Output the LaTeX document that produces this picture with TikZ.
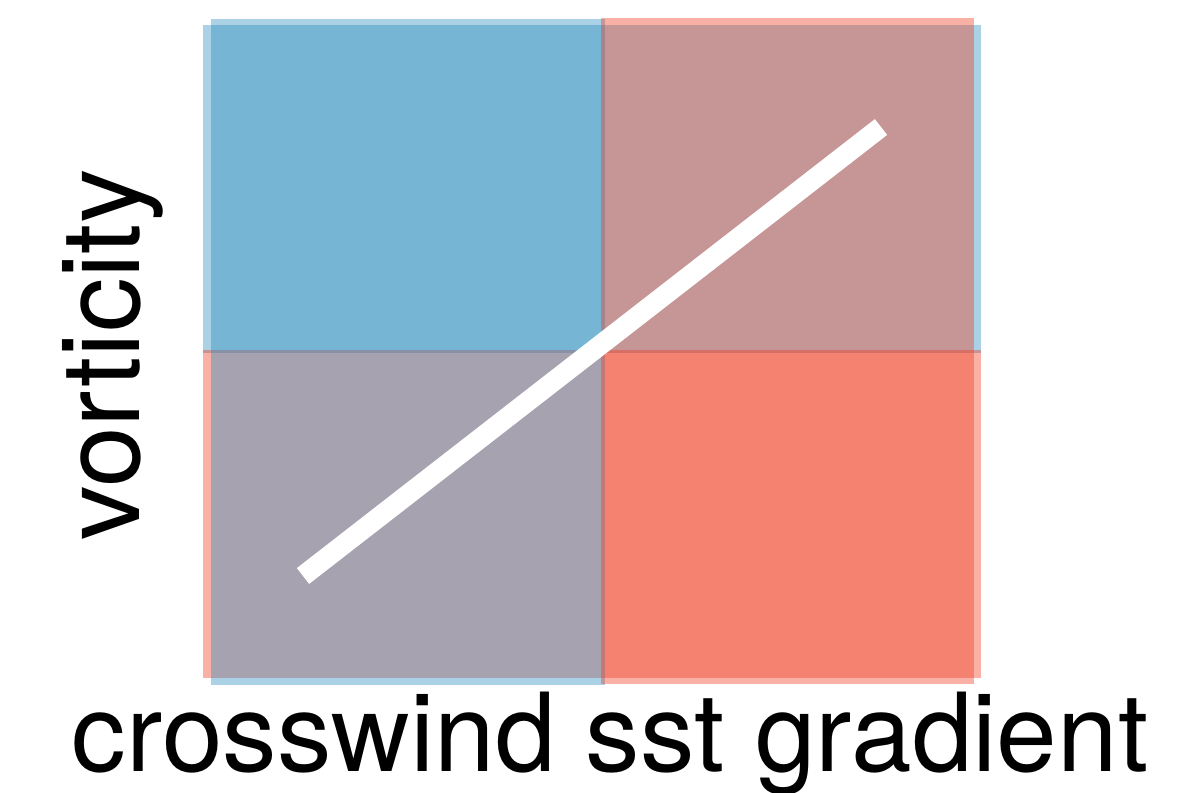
\documentclass[tikz,border=0pt]{standalone}
\usepackage{fontspec}
\setmainfont{TeX Gyre Heros}
\usepackage{xcolor}
\usetikzlibrary{positioning}
\definecolor{vortblue}{RGB}{43,140,190}
\definecolor{sstred}{RGB}{240,59,32}

\begin{document}
\begin{tikzpicture}[
    x=0.5pt, y=-0.5pt,
    kotak/.style={fill opacity=0.4},
    axtext/.style={font=\fontsize{54.5}{60}\selectfont, inner sep=0pt}
  ]
    \useasboundingbox (0,0) rectangle (1180,793);
    % rows: sign of vorticity
    \fill[kotak, vortblue] (203,25)  rectangle (981,353);
    \fill[kotak, sstred]   (203,350) rectangle (981,678);
    % columns: sign of crosswind gradient
    \fill[kotak, vortblue] (211,19)  rectangle (605,685);
    \fill[kotak, sstred]   (601,18)  rectangle (974,684);
    \coordinate (lo) at (303,576);
    \coordinate (hi) at (881,127);
    \draw[white, line width=10pt] (lo) -- (hi);
    \node[axtext, anchor=base] (xlab) at (610,771) {crosswind sst gradient};
    \node[axtext, anchor=base, rotate=90] (ylab) at (139,355) {vorticity};
  \end{tikzpicture}
\end{document}
